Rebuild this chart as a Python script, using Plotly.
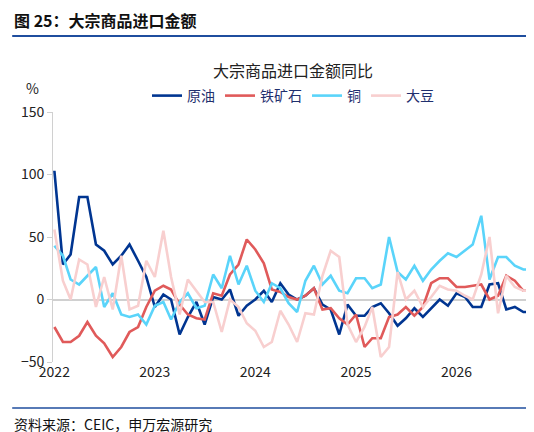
import plotly.graph_objects as go
import pandas as pd

months = pd.date_range("2022-01-01", periods=58, freq="MS")
crude = [103,28,36,82,82,44,39,28,35,44,31,18,-6,4,0,-28,-14,-2,-20,2,0,8,-13,-5,0,7,-2,13,4,
         0,3,9,-4,-8,-28,-4,-13,-13,-6,-3,-11,-21,-15,-7,-14,-7,0,-5,5,2,-6,-6,12,13,-8,-6,-10,-10][:58]
iron = [-22,-34,-34,-29,-18,-29,-35,-46,-38,-26,-22,-6,7,11,8,-4,-12,-15,-16,5,3,20,28,48,40,29,8,6,2,
        0,3,9,-8,-7,-15,-20,-12,-38,-31,-31,-14,-12,-6,-13,-6,13,17,17,10,10,11,12,0,3,19,15,7,7][:58]
copper = [43,35,16,12,19,26,-6,5,-12,-14,-12,-20,-5,-2,-16,-2,5,-7,-5,20,9,35,12,27,7,-2,13,9,-3,
          -10,15,27,12,19,7,5,17,17,9,12,50,22,16,27,15,24,31,37,34,39,44,67,16,34,34,27,24,24][:58]
soy = [56,15,0,32,28,-6,18,-8,35,-8,-5,31,18,55,18,-12,16,7,-2,-2,-26,0,-6,-19,-25,-38,-34,-9,-20,
       -34,-11,-12,19,39,34,-20,-34,-22,-6,-46,-38,22,0,7,-6,2,11,8,7,3,0,20,50,-11,19,10,7,7][:58]

series = [("原油", crude, "#003591"), ("铁矿石", iron, "#E05A5A"),
          ("铜", copper, "#5AD4FA"), ("大豆", soy, "#F8CFCF")]

fig = go.Figure()
for name, vals, col in series:
    fig.add_trace(go.Scatter(x=months, y=vals, name=name, mode="lines",
                             line=dict(color=col, width=2.6)))

font = "Noto Sans CJK SC"
ph = 432 - 104 - 78
fig.update_layout(
    width=534, height=432, margin=dict(l=45, r=9, t=104, b=78),
    paper_bgcolor="white", plot_bgcolor="white",
    font=dict(family=font, size=14, color="#222"),
    showlegend=True,
    legend=dict(orientation="h", x=0.5, xanchor="center", y=1.0, yanchor="bottom",
                font=dict(size=14, color="#1f2f6e"), tracegroupgap=0),
    xaxis=dict(tickformat="%Y", dtick="M12", showgrid=False, showline=False,
               ticks="", range=[months[0] - pd.Timedelta(days=5), months[-1] + pd.Timedelta(days=5)],
               tickfont=dict(size=14, color="#222")),
    yaxis=dict(range=[-50, 150], dtick=50, showgrid=False, zeroline=True, zerolinecolor="#d0d0d0",
               zerolinewidth=1.5, showline=True, linecolor="#d0d0d0", ticks="outside",
               tickcolor="#d0d0d0", ticklen=5, tickfont=dict(size=14, color="#222")),
    annotations=[
        dict(text="<b>图 25：大宗商品进口金额</b>", xref="paper", yref="paper", x=-0.085, y=1.0,
             xanchor="left", yanchor="bottom", yshift=78, showarrow=False,
             font=dict(size=16, color="#111")),
        dict(text="大宗商品进口金额同比", xref="paper", yref="paper", x=0.5, y=1.0,
             yshift=28, yanchor="bottom", showarrow=False, font=dict(size=16, color="#222")),
        dict(text="%", xref="paper", yref="paper", x=-0.06, y=1.0, yshift=12,
             yanchor="bottom", showarrow=False, font=dict(size=14, color="#222")),
        dict(text="资料来源：CEIC，申万宏源研究", xref="paper", yref="paper", x=-0.085, y=0,
             xanchor="left", yanchor="top", yshift=-50, showarrow=False,
             font=dict(size=14, color="#111")),
    ],
    shapes=[
        dict(type="line", xref="paper", yref="paper", x0=-0.085, x1=1.02,
             y0=1 + (104 - 28) / ph, y1=1 + (104 - 28) / ph, line=dict(color="#1f4e9e", width=2)),
        dict(type="line", xref="paper", yref="paper", x0=-0.085, x1=1.02,
             y0=-(400 - 354) / ph, y1=-(400 - 354) / ph, line=dict(color="#1f4e9e", width=1.5)),
    ],
)
fig.write_html("out.html")
